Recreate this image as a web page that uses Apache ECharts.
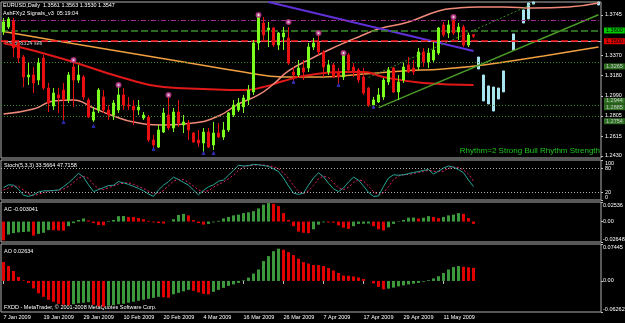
<!DOCTYPE html>
<html>
<head>
<meta charset="utf-8">
<script src="https://cdn.jsdelivr.net/npm/echarts@6/dist/echarts.min.js"></script>
<style>
  html, body { margin: 0; padding: 0; background: #000; }
  #main { width: 625px; height: 323px; }
</style>
</head>
<body>
<div id="main"></div>
<script>
// EURUSD daily, 7 Jan 2009 .. 19 May 2009 (95 bars)
const opens = [1.3586,1.3633,1.3689,1.3484,1.3353,1.3167,1.3185,1.3138,1.3344,1.3064,
  1.2896,1.2999,1.3045,1.2952,1.3260,1.3138,1.3167,1.2952,1.2765,1.2859,
  1.2980,1.2859,1.2812,1.2859,1.2999,1.2905,1.2896,1.2859,1.2784,1.2793,
  1.2579,1.2513,1.2653,1.2812,1.2691,1.2840,1.2719,1.2737,1.2644,1.2579,
  1.2551,1.2653,1.2532,1.2644,1.2607,1.2672,1.2812,1.2859,1.2887,1.2952,
  1.3027,1.3484,1.3670,1.3605,1.3624,1.3465,1.3540,1.3530,1.3213,1.3185,
  1.3251,1.3251,1.3446,1.3493,1.3400,1.3213,1.3279,1.3213,1.3167,1.3372,
  1.3260,1.3232,1.3167,1.3064,1.2905,1.2933,1.2980,1.3120,1.3251,1.3027,
  1.3138,1.3279,1.3251,1.3260,1.3400,1.3307,1.3325,1.3390,1.3652,1.3577,
  1.3698,1.3586,1.3633,1.3465,1.3561];
const closes = [1.3680,1.3708,1.3437,1.3344,1.3167,1.3185,1.3111,1.3297,1.3064,1.2924,
  1.3017,1.2971,1.2952,1.3185,1.3138,1.3185,1.2980,1.2793,1.2840,1.3045,
  1.2859,1.2812,1.2924,1.2999,1.2905,1.2896,1.2859,1.2887,1.2812,1.2579,
  1.2532,1.2672,1.2831,1.2691,1.2840,1.2737,1.2747,1.2672,1.2560,1.2551,
  1.2653,1.2513,1.2644,1.2607,1.2672,1.2831,1.2905,1.2924,1.2971,1.3045,
  1.3484,1.3745,1.3558,1.3624,1.3465,1.3577,1.3577,1.3297,1.3185,1.3251,
  1.3213,1.3446,1.3484,1.3400,1.3260,1.3279,1.3167,1.3167,1.3372,1.3232,
  1.3213,1.3138,1.3017,1.2905,1.2952,1.2999,1.3138,1.3232,1.3027,1.3120,
  1.3260,1.3213,1.3213,1.3400,1.3307,1.3390,1.3418,1.3624,1.3558,1.3652,
  1.3577,1.3633,1.3465,1.3558,1.3547];
const lows = [1.3558,1.3614,1.3353,1.3297,1.3073,1.3092,1.3017,1.3092,1.3045,1.2840,
  1.2859,1.2831,1.2765,1.2924,1.2887,1.3111,1.2952,1.2784,1.2747,1.2831,
  1.2831,1.2765,1.2765,1.2831,1.2859,1.2859,1.2719,1.2812,1.2765,1.2560,
  1.2504,1.2504,1.2644,1.2672,1.2653,1.2700,1.2644,1.2579,1.2551,1.2513,
  1.2467,1.2504,1.2485,1.2597,1.2579,1.2653,1.2793,1.2840,1.2831,1.2905,
  1.2999,1.3418,1.3512,1.3446,1.3446,1.3418,1.3418,1.3279,1.3111,1.3167,
  1.3138,1.3213,1.3418,1.3372,1.3167,1.3185,1.3157,1.3092,1.3138,1.3213,
  1.3167,1.3111,1.2999,1.2887,1.2878,1.2924,1.2952,1.3092,1.3017,1.2952,
  1.3111,1.3204,1.3185,1.3232,1.3260,1.3251,1.3307,1.3372,1.3540,1.3530,
  1.3558,1.3512,1.3446,1.3446,1.3530];
const highs = [1.3717,1.3726,1.3717,1.3512,1.3372,1.3297,1.3260,1.3344,1.3372,1.3111,
  1.3064,1.3064,1.3111,1.3213,1.3325,1.3279,1.3185,1.2971,1.2887,1.3064,
  1.3045,1.2905,1.2952,1.3073,1.3064,1.2980,1.2952,1.2952,1.2840,1.2812,
  1.2625,1.2719,1.2878,1.2999,1.2878,1.2952,1.2812,1.2765,1.2653,1.2672,
  1.2691,1.2691,1.2747,1.2737,1.2747,1.2840,1.2952,1.2971,1.2999,1.3092,
  1.3512,1.3764,1.3726,1.3680,1.3633,1.3586,1.3633,1.3633,1.3260,1.3325,
  1.3325,1.3484,1.3530,1.3577,1.3418,1.3325,1.3297,1.3251,1.3400,1.3390,
  1.3297,1.3251,1.3251,1.3073,1.2980,1.3064,1.3157,1.3260,1.3260,1.3185,
  1.3297,1.3353,1.3325,1.3437,1.3437,1.3437,1.3493,1.3633,1.3680,1.3698,
  1.3745,1.3670,1.3652,1.3577,1.3563];

// forecast bars drawn in cyan to the right of the last candle
const projIdx    = [95, 96, 97, 98, 99, 100, 102, 104, 105, 106, 119];
const projTop    = [1.3353,1.3185,1.3083,1.3073,1.3064,1.3223,1.3568,1.3792,1.3857,1.3866,1.3866];
const projBottom = [1.3241,1.2943,1.2915,1.2849,1.2961,1.3027,1.3418,1.3670,1.3708,1.3847,1.3838];

// moving averages, [bar index, price]
const maOrange = [[0,1.3591],[12,1.3493],[24,1.3400],[36,1.3307],[48,1.3213],[56,1.3167],[64,1.3167],
  [72,1.3195],[80,1.3223],[88,1.3241],[96,1.3279],[108,1.3363],[119,1.3446]];
const maRed = [[0,1.3484],[12,1.3335],[24,1.3157],[32,1.3073],[40,1.3055],[48,1.3045],[52,1.3073],
  [56,1.3129],[60,1.3176],[68,1.3213],[72,1.3213],[76,1.3167],[84,1.3111],[94,1.3092]];
const maSalmon = [[0,1.2821],[6,1.2868],[10,1.2943],[14,1.2952],[18,1.2877],[22,1.2803],[26,1.2747],
  [32,1.2719],[38,1.2737],[43,1.2803],[47,1.2915],[51,1.2999],[54,1.3101],[57,1.3223],[61,1.3325],
  [65,1.3418],[69,1.3502],[71,1.3540],[75,1.3614],[81,1.3680],[87,1.3782],[91,1.3810],[95,1.3820],
  [100,1.3820],[106,1.3810],[113,1.3820],[119,1.3857]];
const purpleTrend = [[53,1.3866],[94,1.3409]];
const greenTrend = [[75,1.2881],[119,1.3747]];
const greenChannel = [[73,1.3162],[106,1.3852]];

const pinkMarks = [[14,1.3325],[23,1.3092],[33,1.2999],[51,1.3745],[57,1.3680],[63,1.3577],[68,1.3390],[90,1.3726]];
const blueMarks = [[12,1.2747],[18,1.2709],[30,1.2495],[40,1.2457],[42,1.2457],[58,1.3120],[67,1.3092],[74,1.2887]];

// horizontal levels and their price tags
const tagValues = [1.3600, 1.3547, 1.3500, 1.3265, 1.2944, 1.2885, 1.2754];
const tagTexts  = ['1.3600', '1.3547', '1.3500', '1.3265', '1.2944', '1.2885', '1.2754'];
const tagKinds  = ['g', 'w', 'r', 'd', 'd', 'd', 'd'];
const purpleLevel = 1.3652;
const greenDashLevel = 1.3456;

// stochastic (5,3,3)
const stochMain = [31,38,37,27,12,9,13,20,23,23,24,25,33,43,54,67,57,38,21,26,
  31,36,37,46,43,39,34,29,23,15,9,25,37,46,57,51,44,37,25,13,
  24,33,38,47,50,62,74,87,85,86,89,88,86,84,78,71,55,35,17,14,
  17,37,55,68,58,42,28,21,30,45,57,50,35,19,9,10,34,55,63,62,
  63,66,69,71,74,76,65,72,80,85,82,76,68,50,33.5664];
const stochSignal = [25,30,35,34,25,16,11,14,19,22,23,24,27,34,43,55,59,54,39,28,
  26,31,35,40,42,43,39,34,29,22,16,16,24,36,47,51,51,44,35,25,
  21,23,32,39,45,53,62,74,82,86,87,88,88,86,83,78,68,54,36,22,
  16,23,36,53,60,56,43,30,26,32,44,51,47,35,21,13,18,33,51,60,
  63,64,66,69,71,74,72,71,72,79,82,81,75,65,47.7158];

// accelerator / awesome oscillators
const acValues = [-0.0244,-0.0168,-0.0150,-0.0140,-0.0135,-0.0130,-0.0182,-0.0160,-0.0145,-0.0110,
  -0.0112,-0.0115,-0.0118,-0.0060,-0.0020,0.0020,0.0040,0.0015,-0.0020,-0.0045,
  -0.0050,0.0008,0.0020,0.0070,0.0072,0.0060,0.0058,0.0045,0.0030,0.0010,
  -0.0010,-0.0020,-0.0025,0.0002,0.0030,0.0085,0.0100,0.0080,0.0020,-0.0020,
  -0.0040,-0.0030,-0.0010,0.0010,0.0040,0.0060,0.0080,0.0090,0.0110,0.0120,
  0.0135,0.0170,0.0220,0.0240,0.0230,0.0200,0.0110,0.0020,-0.0060,-0.0130,
  -0.0145,-0.0150,-0.0100,-0.0040,-0.0010,-0.0012,-0.0015,-0.0050,-0.0080,-0.0095,
  -0.0060,-0.0030,-0.0028,-0.0025,-0.0060,-0.0100,-0.0115,-0.0075,-0.0030,-0.0005,
  0.0020,0.0050,0.0052,0.0040,0.0050,0.0070,0.0060,0.0045,0.0060,0.0080,
  0.0090,0.0110,0.0100,0.0045,-0.003041];
const aoValues = [0.0380,0.0300,0.0200,0.0080,0.0010,-0.0040,-0.0150,-0.0250,-0.0320,-0.0380,
  -0.0420,-0.0460,-0.0480,-0.0490,-0.0470,-0.0450,-0.0440,-0.0430,-0.0480,-0.0510,
  -0.0520,-0.0500,-0.0490,-0.0470,-0.0460,-0.0440,-0.0420,-0.0400,-0.0380,-0.0360,
  -0.0340,-0.0320,-0.0330,-0.0340,-0.0270,-0.0240,-0.0210,-0.0180,-0.0200,-0.0230,
  -0.0260,-0.0270,-0.0220,-0.0180,-0.0140,-0.0100,-0.0070,-0.0040,0.0013,0.0067,
  0.0148,0.0230,0.0400,0.0500,0.0600,0.0650,0.0630,0.0580,0.0520,0.0450,
  0.0380,0.0350,0.0320,0.0318,0.0300,0.0260,0.0210,0.0160,0.0110,0.0105,
  0.0090,0.0070,0.0040,0.0000,-0.0050,-0.0120,-0.0170,-0.0155,-0.0135,-0.0110,
  -0.0090,-0.0070,-0.0055,-0.0040,-0.0015,0.0015,0.0050,0.0095,0.0160,0.0230,
  0.0280,0.0300,0.0285,0.0275,0.02634];

// axis labels
const tickLabels = ['7 Jan 2009','19 Jan 2009','29 Jan 2009','10 Feb 2009','20 Feb 2009','4 Mar 2009',
  '16 Mar 2009','26 Mar 2009','7 Apr 2009','17 Apr 2009','29 Apr 2009','11 May 2009'];
const tickStep = 8;
const priceTicks = [1.2430, 1.2615, 1.2805, 1.2990, 1.3180, 1.3370, 1.3745];
const stochEndTicks = [0, 100];
const stochLevelTicks = [20, 80];
const acTicks = [-0.02648, 0, 0.02536];
const aoTicks = [-0.06262, 0, 0.07445];
const slotCount = 120;

const categories = [];
for (let i = 0; i < slotCount; i++) categories.push(String(i));

const font = 'Liberation Sans';
const fs = 5.5;
const upColor = '#7cff1e', downColor = '#e81010';
const histUp = '#3c9a3c', histDown = '#e00000';

let candleData = opens.map((o, i) => [o, closes[i], lows[i], highs[i]]);
let projData = categories.map(() => '-');
projIdx.forEach((k, j) => { projData[k] = [projBottom[j], projTop[j], projBottom[j], projTop[j]]; });

function histColor(values) {
  return function (p) {
    let i = p.dataIndex;
    if (i === 0) return histDown;
    return values[i] >= values[i - 1] ? histUp : histDown;
  };
}

const lineLook = {
  g: { color: '#3c8c28', type: [7, 3], width: 1.5 },
  w: { color: '#b8b8b8', type: 'solid', width: 1 },
  r: { color: '#ff1010', type: [7, 3], width: 1.5 },
  d: { color: '#3c8c28', type: [1, 2], width: 1 }
};
const tagRich = {
  g: { backgroundColor: '#00c800', color: '#000000', padding: [0, 2], fontSize: fs, fontFamily: font },
  w: { backgroundColor: '#ffffff', color: '#000000', padding: [0, 2], fontSize: fs, fontFamily: font },
  r: { backgroundColor: '#e00000', color: '#000000', padding: [0, 2], fontSize: fs, fontFamily: font },
  d: { backgroundColor: '#2f6f22', color: '#c8c8c8', padding: [0, 2], fontSize: fs, fontFamily: font }
};

let levelLines = [
  { yAxis: purpleLevel, lineStyle: { color: '#a02890', type: [5, 2, 1, 2], width: 1 } },
  { yAxis: greenDashLevel, lineStyle: { color: '#3c8c28', type: [5, 2, 1, 2], width: 1 } }
];
tagValues.forEach((v, i) => levelLines.push({ yAxis: v, lineStyle: lineLook[tagKinds[i]] }));

const grids = [
  { left: 1, right: 24, top: 2, height: 156 },
  { left: 1, right: 24, top: 160, height: 40 },
  { left: 1, right: 24, top: 202, height: 40 },
  { left: 1, right: 24, top: 244, height: 68 }
];

function xAxisFor(idx, showLabels) {
  return {
    type: 'category', gridIndex: idx, data: categories, boundaryGap: true,
    axisLine: { show: false },
    axisTick: showLabels ? {
      show: true, alignWithLabel: true, length: 3, lineStyle: { color: '#c0c0c0' },
      interval: (i) => i % tickStep === 0 && i / tickStep < tickLabels.length
    } : { show: false },
    axisLabel: showLabels ? {
      show: true, color: '#ffffff', fontSize: fs, fontFamily: font, align: 'left', margin: 2,
      interval: (i) => i % tickStep === 0 && i / tickStep < tickLabels.length,
      formatter: (v, i) => tickLabels[i / tickStep] || ''
    } : { show: false },
    splitLine: { show: false }
  };
}

function yAxisFor(idx, min, max, ticks, fmt, edges, margin) {
  return {
    type: 'value', gridIndex: idx, position: 'right', offset: 0, min: min, max: max, scale: true,
    axisLine: { show: false },
    splitLine: { show: false },
    axisTick: { show: true, length: 2, customValues: ticks, lineStyle: { color: '#c0c0c0' } },
    axisLabel: {
      show: true, customValues: ticks, formatter: fmt, margin: margin || 4,
      showMinLabel: true, showMaxLabel: true, hideOverlap: false,
      color: '#ffffff', fontSize: fs, fontFamily: font,
      verticalAlignMinLabel: edges ? 'bottom' : 'middle',
      verticalAlignMaxLabel: edges ? 'top' : 'middle'
    }
  };
}

// extra price axis that only carries the coloured level tags
let tagAxis = yAxisFor(0, 1.2411, 1.3866, tagValues, v => {
  let k = tagValues.indexOf(v);
  return k < 0 ? '' : '{' + tagKinds[k] + '|' + tagTexts[k] + '}';
}, false);
tagAxis.axisTick = { show: false };
tagAxis.axisLabel.margin = 3;
tagAxis.axisLabel.rich = tagRich;
tagAxis.z = 10;

const oscFmt = v => v === 0 ? '0.00' : v.toFixed(5);

const option = {
  backgroundColor: '#000000',
  animation: false,
  grid: grids.map(g => Object.assign({
    show: true, borderColor: '#b0b0b0', borderWidth: 1, backgroundColor: 'transparent',
    containLabel: false, outerBoundsMode: 'none'
  }, g)),
  xAxis: [xAxisFor(0, false), xAxisFor(1, false), xAxisFor(2, false), xAxisFor(3, true)],
  yAxis: [
    yAxisFor(0, 1.2411, 1.3866, priceTicks, v => v.toFixed(4), false),
    yAxisFor(1, 0, 100, stochEndTicks, v => String(v), true),
    yAxisFor(2, -0.02648, 0.02536, acTicks, oscFmt, true, 2),
    yAxisFor(3, -0.06262, 0.07445, aoTicks, oscFmt, true, 2),
    yAxisFor(1, 0, 100, stochLevelTicks, v => String(v), false),
    tagAxis
  ],
  graphic: [
    { type: 'text', left: 3, top: 2, style: { text: 'EURUSD,Daily  1.3561 1.3563 1.3530 1.3547', fill: '#ffffff', fontSize: fs, fontFamily: font } },
    { type: 'text', left: 3, top: 10, style: { text: 'AshFXy2 Signals_v3  05:19:04', fill: '#ffffff', fontSize: fs, fontFamily: font } },
    { type: 'text', left: 5, top: 40, style: { text: '#38808324 sell', fill: '#c8c8c8', fontSize: fs, fontFamily: font } },
    { type: 'text', right: 25, top: 147, style: { text: 'Rhythm=2 Strong Bull Rhythm Strength', fill: '#1ec81e', fontSize: 8, fontFamily: font } },
    { type: 'text', left: 4, top: 162, style: { text: 'Stoch(5,3,3) 33.5664 47.7158', fill: '#ffffff', fontSize: fs, fontFamily: font } },
    { type: 'text', left: 4, top: 206, style: { text: 'AC -0.003041', fill: '#ffffff', fontSize: fs, fontFamily: font } },
    { type: 'text', left: 4, top: 248, style: { text: 'AO 0.02634', fill: '#ffffff', fontSize: fs, fontFamily: font } },
    { type: 'text', left: 4, top: 304, style: { text: 'FXDD - MetaTrader, © 2001-2008 MetaQuotes Software Corp.', fill: '#ffffff', fontSize: fs, fontFamily: font } }
  ],
  series: [
    {
      name: 'EURUSD', type: 'candlestick', xAxisIndex: 0, yAxisIndex: 0, data: candleData,
      barWidth: 3,
      itemStyle: { color: upColor, color0: downColor, borderColor: upColor, borderColor0: downColor, borderWidth: 1 },
      markLine: {
        silent: true, symbol: ['none', 'none'], animation: false, label: { show: false },
        data: levelLines
      },
      z: 5
    },
    {
      name: 'forecast', type: 'candlestick', xAxisIndex: 0, yAxisIndex: 0, data: projData,
      barWidth: 2,
      itemStyle: { color: '#a8e4f0', color0: '#a8e4f0', borderColor: '#a8e4f0', borderColor0: '#a8e4f0' }
    },
    { name: 'MA slow', type: 'line', xAxisIndex: 0, yAxisIndex: 0, data: maOrange, smooth: true, symbol: 'none', lineStyle: { color: '#f0a040', width: 1.5 }, z: 3 },
    { name: 'MA mid', type: 'line', xAxisIndex: 0, yAxisIndex: 0, data: maRed, smooth: true, symbol: 'none', lineStyle: { color: '#e01818', width: 2 }, z: 3 },
    { name: 'MA fast', type: 'line', xAxisIndex: 0, yAxisIndex: 0, data: maSalmon, smooth: true, symbol: 'none', lineStyle: { color: '#f08a78', width: 1.5 }, z: 3 },
    { name: 'trend down', type: 'line', xAxisIndex: 0, yAxisIndex: 0, data: purpleTrend, symbol: 'none', lineStyle: { color: '#6030d8', width: 2 }, z: 4 },
    { name: 'trend up', type: 'line', xAxisIndex: 0, yAxisIndex: 0, data: greenTrend, symbol: 'none', lineStyle: { color: '#4a9a28', width: 1.5 }, z: 4 },
    { name: 'channel', type: 'line', xAxisIndex: 0, yAxisIndex: 0, data: greenChannel, symbol: 'none', lineStyle: { color: '#3a8a20', width: 1, type: [2, 2] }, z: 4 },
    { name: 'tops', type: 'scatter', xAxisIndex: 0, yAxisIndex: 0, data: pinkMarks, symbol: 'emptyCircle', symbolSize: 4, itemStyle: { color: '#c03890', borderColor: '#c03890', borderWidth: 1 }, z: 6 },
    { name: 'bottoms', type: 'scatter', xAxisIndex: 0, yAxisIndex: 0, data: blueMarks, symbol: 'triangle', symbolSize: 3, itemStyle: { color: '#3030c0', borderColor: '#3030c0' }, z: 6 },
    {
      name: 'stoch', type: 'line', xAxisIndex: 1, yAxisIndex: 1, data: stochMain, symbol: 'none',
      lineStyle: { color: '#2aa898', width: 1 },
      markLine: {
        silent: true, symbol: ['none', 'none'], label: { show: false },
        lineStyle: { color: '#b0b0b0', type: [1, 2], width: 1 },
        data: [{ yAxis: 80 }, { yAxis: 20 }]
      }, z: 3
    },
    { name: 'signal', type: 'line', xAxisIndex: 1, yAxisIndex: 1, data: stochSignal, symbol: 'none', lineStyle: { color: '#e8206a', width: 1, type: [2, 2] }, z: 2 },
    { name: 'AC', type: 'bar', xAxisIndex: 2, yAxisIndex: 2, data: acValues, barWidth: 3, itemStyle: { color: histColor(acValues) } },
    { name: 'AO', type: 'bar', xAxisIndex: 3, yAxisIndex: 3, data: aoValues, barWidth: 3, itemStyle: { color: histColor(aoValues) } }
  ]
};

const chart = echarts.init(document.getElementById('main'));
chart.setOption(option);
</script>
</body>
</html>
